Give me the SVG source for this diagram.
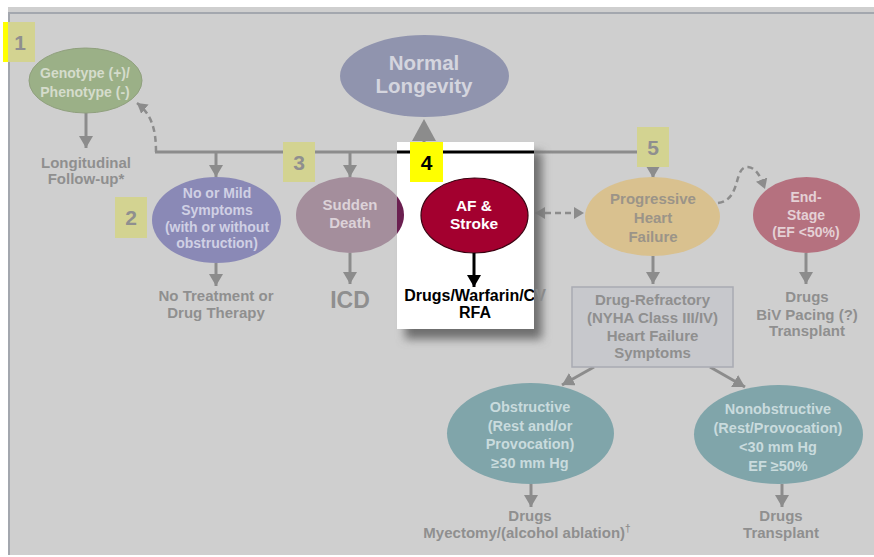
<svg xmlns="http://www.w3.org/2000/svg" width="874" height="557" viewBox="0 0 874 557">
<defs>
<style>
text{font-family:"Liberation Sans",Arial,sans-serif;font-weight:bold;text-anchor:middle}
.gt{fill:#8f8f8f;font-size:15px}
.num{fill:#8f8f8f;font-size:21px}
.ln{stroke:#8c8c8c;stroke-width:3;fill:none}
.dash{stroke:#8c8c8c;stroke-width:2.5;fill:none;stroke-dasharray:6 4}
.box{fill:#d3d391}
</style>
<marker id="ah" viewBox="0 0 12 14" refX="12" refY="7" markerWidth="12" markerHeight="14" markerUnits="userSpaceOnUse" orient="auto"><path d="M0,0 L12,7 L0,14 z" fill="#8c8c8c"/></marker>
<marker id="ahd" viewBox="0 0 10 12" refX="10" refY="6" markerWidth="10" markerHeight="12" markerUnits="userSpaceOnUse" orient="auto-start-reverse"><path d="M0,0 L10,6 L0,12 z" fill="#8c8c8c"/></marker>
<marker id="ahk" viewBox="0 0 12 14" refX="12" refY="7" markerWidth="12" markerHeight="14" markerUnits="userSpaceOnUse" orient="auto"><path d="M0,0 L12,7 L0,14 z" fill="#000"/></marker>
<filter id="sh" x="-20%" y="-20%" width="150%" height="150%"><feGaussianBlur stdDeviation="5"/></filter>
<clipPath id="pin"><rect x="397" y="142" width="137" height="187"/></clipPath>
<clipPath id="pout"><rect x="534" y="280" width="40" height="40"/></clipPath>
</defs>

<rect x="0" y="0" width="874" height="557" fill="#fff"/>
<rect x="8" y="7" width="866" height="548" fill="#cfcfcf"/>
<path d="M9,555 V13 H874" stroke="#a3a7ae" stroke-width="2" fill="none"/>

<g id="connectors">
<path class="ln" d="M86,113 V148" marker-end="url(#ah)"/>
<path class="ln" d="M155,152 H653 V178" marker-end="url(#ah)"/>
<path class="dash" d="M156,152 C156,128 151,114 137,103" marker-end="url(#ahd)"/>
<path class="ln" d="M216,152 V177" marker-end="url(#ah)"/>
<path class="ln" d="M350,152 V177" marker-end="url(#ah)"/>
<path class="ln" d="M424,145 V128"/>
<polygon points="424,119 412,141 436,141" fill="#8c8c8c"/>
<path class="ln" d="M216,263 V286" marker-end="url(#ah)"/>
<path class="ln" d="M350,253 V284" marker-end="url(#ah)"/>
<path class="dash" d="M535,213 H584" marker-start="url(#ahd)" marker-end="url(#ahd)"/>
<path class="ln" d="M653,256 V284" marker-end="url(#ah)"/>
<path class="dash" stroke-width="3" d="M718,203 C742,200 733,166 748,167 C757,168 761,178 765,189" marker-end="url(#ahd)"/>
<path class="ln" d="M806,253 V284" marker-end="url(#ah)"/>
<path class="ln" d="M594,367 L562,385" marker-end="url(#ah)"/>
<path class="ln" d="M710,367 L745,387" marker-end="url(#ah)"/>
<path class="ln" d="M531,484 V507" marker-end="url(#ah)"/>
<path class="ln" d="M782,484 V507" marker-end="url(#ah)"/>
</g>

<g id="box1"><rect class="box" x="3" y="22" width="32" height="40"/><rect x="3" y="22" width="5" height="40" fill="#ffff00"/><text class="num" x="20" y="50">1</text></g>
<g id="box2"><rect class="box" x="115" y="197" width="32" height="41"/><text class="num" x="131" y="225">2</text></g>
<g id="box3"><rect class="box" x="283" y="142" width="32" height="40"/><text class="num" x="299" y="170">3</text></g>
<g id="box5"><rect class="box" x="637" y="127" width="32" height="40"/><text class="num" x="653" y="155">5</text></g>

<g id="genotype">
<ellipse cx="85.5" cy="80.5" rx="56.5" ry="32.5" fill="#9bb087" stroke="#90a07e"/>
<text x="85" y="78" font-size="14" fill="#d5dccc">Genotype (+)/</text>
<text x="85" y="97" font-size="14" fill="#d5dccc">Phenotype (-)</text>
</g>
<g id="followup">
<text class="gt" x="86" y="168">Longitudinal</text>
<text class="gt" x="86" y="184">Follow-up*</text>
</g>

<g id="normal">
<ellipse cx="424.5" cy="76" rx="84.5" ry="41" fill="#9094ae"/>
<text x="424" y="70" font-size="20.5" fill="#d4d5de">Normal</text>
<text x="424" y="93" font-size="20.5" fill="#d4d5de">Longevity</text>
</g>

<g id="mild">
<ellipse cx="216.5" cy="220" rx="64.5" ry="43" fill="#8a89b6"/>
<text x="217" y="198" font-size="14" fill="#d0d0e4">No or Mild</text>
<text x="217" y="215" font-size="14" fill="#d0d0e4">Symptoms</text>
<text x="217" y="232" font-size="14" fill="#d0d0e4">(with or without</text>
<text x="217" y="248" font-size="14" fill="#d0d0e4">obstruction)</text>
</g>
<g id="notreat">
<text class="gt" x="216" y="301">No Treatment or</text>
<text class="gt" x="216" y="318">Drug Therapy</text>
</g>

<g id="sudden">
<ellipse cx="350" cy="215" rx="54" ry="38" fill="#a48e9c"/>
<text x="350" y="210" font-size="15" fill="#dcd2d8">Sudden</text>
<text x="350" y="228" font-size="15" fill="#dcd2d8">Death</text>
</g>
<g id="icd"><text x="350" y="308" style="font-size:23px;fill:#8f8f8f">ICD</text></g>

<g id="panel4">
<rect x="405" y="152" width="137" height="187" fill="#6e6e6e" filter="url(#sh)"/>
<rect x="397" y="142" width="137" height="187" fill="#fff"/>
<ellipse cx="350" cy="215" rx="54" ry="38" fill="#6b1f50" clip-path="url(#pin)"/>
<path d="M397,152 H534" stroke="#000" stroke-width="3"/>
<rect x="410" y="142" width="33" height="40" fill="#ffff00"/>
<text x="426.5" y="170" font-size="21" fill="#000">4</text>
</g>

<g id="af">
<ellipse cx="474.5" cy="215.5" rx="53.5" ry="37.5" fill="#a3002f" stroke="#3a0010" stroke-width="1.2"/>
<text x="474" y="211" font-size="15.5" fill="#fff">AF &amp;</text>
<text x="474" y="229" font-size="15.5" fill="#fff">Stroke</text>
<path d="M474,253 V287" stroke="#000" stroke-width="3" marker-end="url(#ahk)"/>
</g>
<g id="afdrugs">
<text x="475" y="301" font-size="16" fill="#000" clip-path="url(#pin)">Drugs/Warfarin/CV</text>
<text x="475" y="301" font-size="16" fill="#8a8a8a" clip-path="url(#pout)">Drugs/Warfarin/CV</text>
<text x="475" y="318" font-size="16" fill="#000">RFA</text>
</g>

<g id="progressive">
<ellipse cx="652.5" cy="216.5" rx="67.5" ry="39.5" fill="#d9c18f"/>
<text x="653" y="204" font-size="15" fill="#9b9488">Progressive</text>
<text x="653" y="223" font-size="15" fill="#9b9488">Heart</text>
<text x="653" y="242" font-size="15" fill="#9b9488">Failure</text>
</g>

<g id="endstage">
<ellipse cx="806.5" cy="215" rx="53.5" ry="38" fill="#b5717f"/>
<text x="806" y="202" font-size="14" fill="#e4d0d5">End-</text>
<text x="806" y="220" font-size="14" fill="#e4d0d5">Stage</text>
<text x="806" y="237" font-size="14" fill="#e4d0d5">(EF &lt;50%)</text>
</g>
<g id="endtreat">
<text class="gt" x="807" y="302">Drugs</text>
<text class="gt" x="807" y="320">BiV Pacing (?)</text>
<text class="gt" x="807" y="336">Transplant</text>
</g>

<g id="refractory">
<rect x="572" y="287" width="161" height="80" fill="#c7c8cc" stroke="#a9abb3" stroke-width="1.5"/>
<text class="gt" x="652.5" y="305">Drug-Refractory</text>
<text class="gt" x="652.5" y="323">(NYHA Class III/IV)</text>
<text class="gt" x="652.5" y="341">Heart Failure</text>
<text class="gt" x="652.5" y="358">Symptoms</text>
</g>

<g id="obstructive">
<ellipse cx="530.5" cy="433.5" rx="83.5" ry="50.5" fill="#80a5aa"/>
<text x="530" y="412" font-size="14.5" fill="#c9dbdd">Obstructive</text>
<text x="530" y="431" font-size="14.5" fill="#c9dbdd">(Rest and/or</text>
<text x="530" y="449" font-size="14.5" fill="#c9dbdd">Provocation)</text>
<text x="530" y="468" font-size="14.5" fill="#c9dbdd">≥30 mm Hg</text>
</g>
<g id="obtreat">
<text class="gt" x="530" y="521">Drugs</text>
<text class="gt" x="527" y="538">Myectomy/(alcohol ablation)<tspan font-size="10" dy="-6">†</tspan></text>
</g>

<g id="nonobstructive">
<ellipse cx="778.5" cy="434.5" rx="84.5" ry="49.5" fill="#80a5aa"/>
<text x="778" y="414" font-size="14.5" fill="#c9dbdd">Nonobstructive</text>
<text x="778" y="433" font-size="14.5" fill="#c9dbdd">(Rest/Provocation)</text>
<text x="778" y="452" font-size="14.5" fill="#c9dbdd">&lt;30 mm Hg</text>
<text x="778" y="471" font-size="14.5" fill="#c9dbdd">EF ≥50%</text>
</g>
<g id="nontreat">
<text class="gt" x="781" y="521">Drugs</text>
<text class="gt" x="781" y="538">Transplant</text>
</g>
</svg>
